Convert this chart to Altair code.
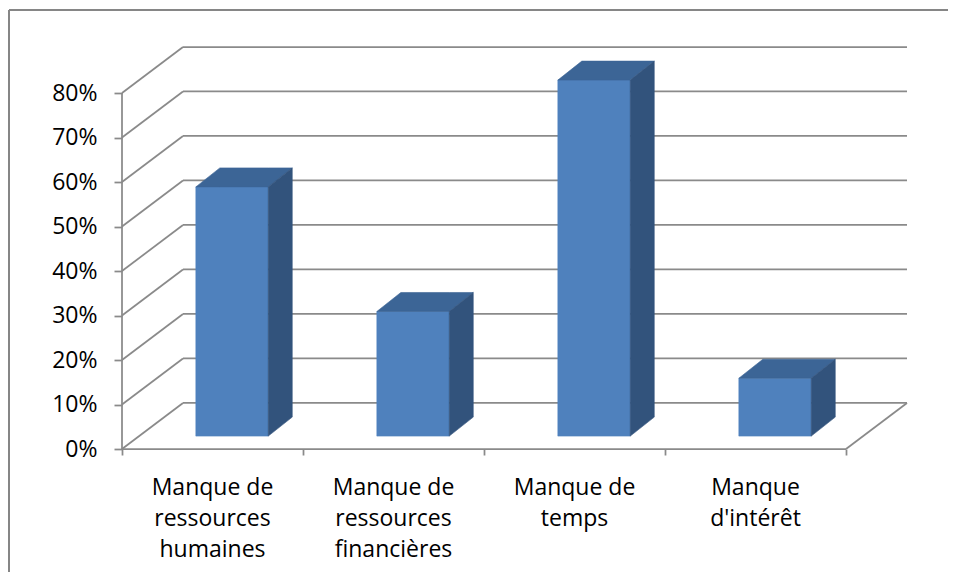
import altair as alt
import pandas as pd

# ---- data ----
categories = [
    "Manque de\nressources\nhumaines",
    "Manque de\nressources\nfinancières",
    "Manque de\ntemps",
    "Manque\nd'intérêt",
]
values = [0.56, 0.28, 0.80, 0.13]
y_ticks = [0.0, 0.1, 0.2, 0.3, 0.4, 0.5, 0.6, 0.7, 0.8]

# ---- 3D projection constants (in data units) ----
DEPTH_X = 0.337     # horizontal shift of back wall, category units
DEPTH_Y = 0.1034    # vertical shift of back wall, value units
FRONT_DX = 0.108    # shift of bar front face, category units
FRONT_DY = 0.029    # shift of bar front face, value units
BAR_DX = 0.1326     # bar depth, category units
BAR_DY = 0.0427     # bar depth, value units
BAR_HALF = 0.2      # half bar width, category units
N = len(categories)
Y_MAX = y_ticks[-1]
LABEL_Y = -0.1034   # baseline of first category label line

FONT = "Open Sans"
GRID = "#8a8a8a"
FACE_COLORS = ["#4F81BD", "#3C6596", "#32537C"]

# ---- bar faces ----
rows = []
for i, v in enumerate(values):
    c = i + 0.5
    fx, fy = FRONT_DX, FRONT_DY
    by = fy + BAR_DY
    d = BAR_DX
    xl, xr = c - BAR_HALF + fx, c + BAR_HALF + fx
    top_f, top_b = fy + v, by + v
    pts = {
        "front": [(xl, top_f, fy), (xr, top_f, fy)],
        "top": [(xl, top_f, top_f), (xl + d, top_b, top_f), (xr, top_b, top_f), (xr + d, top_b, top_b)],
        "side": [(xr, top_f, fy), (xr + d, top_b, by)],
    }
    for face, pl in pts.items():
        for (x, y, y2) in pl:
            rows.append(dict(key=f"{i}-{face}", face=face, x=x, y=y, y2=y2))
faces = pd.DataFrame(rows)

# ---- wall / floor lines ----
lines = []
for t in y_ticks:
    lines.append(dict(x=DEPTH_X, x2=N + DEPTH_X, y=t + DEPTH_Y, y2=t + DEPTH_Y))
    lines.append(dict(x=0, x2=DEPTH_X, y=t, y2=t + DEPTH_Y))
lines.append(dict(x=0, x2=N, y=0, y2=0))
lines.append(dict(x=N, x2=N + DEPTH_X, y=0, y2=DEPTH_Y))
lines.append(dict(x=0, x2=0, y=0, y2=Y_MAX))
lines_df = pd.DataFrame(lines)

labels_df = pd.DataFrame({"x": [i + 0.5 for i in range(N)], "y": [LABEL_Y] * N, "text": categories})

xscale = alt.Scale(domain=[0, N + DEPTH_X], nice=False, zero=False)
yscale = alt.Scale(domain=[0, Y_MAX + DEPTH_Y], nice=False, zero=False)
xaxis = alt.Axis(values=list(range(N + 1)), labels=False, domain=False, grid=False,
                 tickSize=6, tickColor=GRID, tickWidth=1.75, title=None)
yaxis = alt.Axis(values=y_ticks, format=".0%", domain=False, grid=False, tickSize=8,
                 tickColor=GRID, tickWidth=1.75, labelFont=FONT, labelFontSize=23,
                 labelColor="#000000", labelPadding=17, title=None)

# outer frame: only top and left edges are visible in the picture
frame_df = pd.DataFrame({"a": [0]})
frame_top = alt.Chart(frame_df).mark_rule(color="#868686", strokeWidth=2).encode(
    x=alt.value(-113), x2=alt.value(3000), y=alt.value(-37))
frame_left = alt.Chart(frame_df).mark_rule(color="#868686", strokeWidth=2).encode(
    x=alt.value(-113), y=alt.value(-37), y2=alt.value(3000))

rules = alt.Chart(lines_df).mark_rule(color=GRID, strokeWidth=1.75).encode(
    x=alt.X("x:Q", scale=xscale, axis=xaxis),
    x2="x2:Q",
    y=alt.Y("y:Q", scale=yscale, axis=yaxis),
    y2="y2:Q",
)

face_scale = alt.Scale(domain=["front", "top", "side"], range=FACE_COLORS)
bars = alt.Chart(faces).mark_area(orient="vertical", strokeWidth=0.6).encode(
    x=alt.X("x:Q", scale=xscale, axis=xaxis),
    y=alt.Y("y:Q", scale=yscale, axis=yaxis),
    y2="y2:Q",
    detail="key:N",
    color=alt.Color("face:N", scale=face_scale, legend=None),
    stroke=alt.Stroke("face:N", scale=face_scale, legend=None),
)

text = alt.Chart(labels_df).mark_text(
    lineBreak="\n", baseline="alphabetic", align="center", font=FONT, fontSize=23,
    lineHeight=31, color="#000000"
).encode(
    x=alt.X("x:Q", scale=xscale, axis=xaxis),
    y=alt.Y("y:Q", scale=yscale, axis=yaxis),
    text="text:N",
)

chart = alt.layer(frame_top, frame_left, rules, bars, text).properties(
    width=785, height=402,
    padding={"left": 114, "top": 39, "right": 41, "bottom": 123},
    autosize=alt.AutoSizeParams(type="none"),
    background="white",
).configure_view(strokeWidth=0)

chart.save("out.html", embed_options={"renderer": "svg", "actions": False})
